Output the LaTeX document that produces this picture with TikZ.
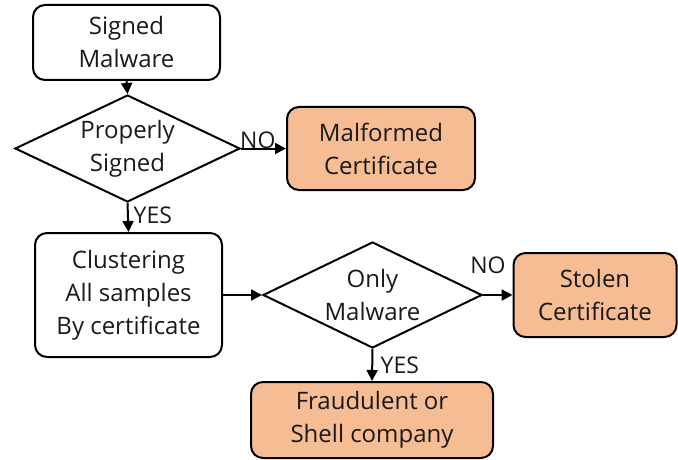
\documentclass[tikz,border=0pt]{standalone}
\usepackage{fontspec}
\setmainfont{Open Sans}
\usetikzlibrary{arrows.meta,shapes.geometric}
\definecolor{peach}{HTML}{F6BC94}
\definecolor{ink}{HTML}{1A1A1A}
\tikzset{
  box/.style={draw, line width=2pt, rounded corners=12pt, align=center,
    inner sep=0pt, text=ink, font=\fontsize{24}{33}\selectfont},
  result/.style={box, fill=peach},
  decision/.style={draw, diamond, line width=2pt, inner sep=0pt},
  dtext/.style={align=center, text=ink, font=\fontsize{24}{33}\selectfont},
  flow/.style={line width=2pt, -{Triangle[length=11pt,width=11pt]}},
  tag/.style={text=ink, font=\fontsize{23}{24}\selectfont, inner sep=1pt},
}
\begin{document}
\begin{tikzpicture}[x=1pt,y=-1pt]
\useasboundingbox (0,0) rectangle (678,460);

% boxes
\node[box, minimum width=187pt, minimum height=75pt] (sm) at (126.5,42.5) {Signed\\Malware};
\node[result, minimum width=188pt, minimum height=83pt] (mc) at (381,148.5) {Malformed\\Certificate};
\node[box, minimum width=187pt, minimum height=124pt] (cl) at (128.5,295) {Clustering\\All samples\\By certificate};
\node[result, minimum width=163pt, minimum height=84pt] (sc) at (595,295) {Stolen\\Certificate};
\node[result, minimum width=242pt, minimum height=76pt] (fr) at (372,420) {Fraudulent or\\Shell company};

% decisions
\node[decision, minimum width=225pt, minimum height=107pt] (d1) at (127.5,148.5) {};
\node[dtext] at (d1) {Properly\\Signed};
\node[decision, minimum width=219pt, minimum height=106pt] (d2) at (372.5,295) {};
\node[dtext] at (d2) {Only\\Malware};

% connectors
\draw[flow] (sm.south) -- (d1.north);
\draw[flow] (d1.east) -- (mc.west);
\node[tag, anchor=south west] (no1) at ([xshift=-2pt,yshift=-1pt]d1.east) {NO};
\draw[flow] (d1.south) -- (cl.north);
\node[tag, anchor=west] (yes1) at ([xshift=5pt,yshift=-12pt]d1.south) {YES};
\draw[flow] (cl.east) -- (d2.west);
\draw[flow] (d2.east) -- (sc.west);
\node[tag, anchor=center] (no2) at ([xshift=5pt,yshift=30pt]d2.east) {NO};
\draw[flow] (d2.south) -- (fr.north);
\node[tag, anchor=west] (yes2) at ([xshift=7pt,yshift=-16pt]d2.south) {YES};
\end{tikzpicture}
\end{document}
